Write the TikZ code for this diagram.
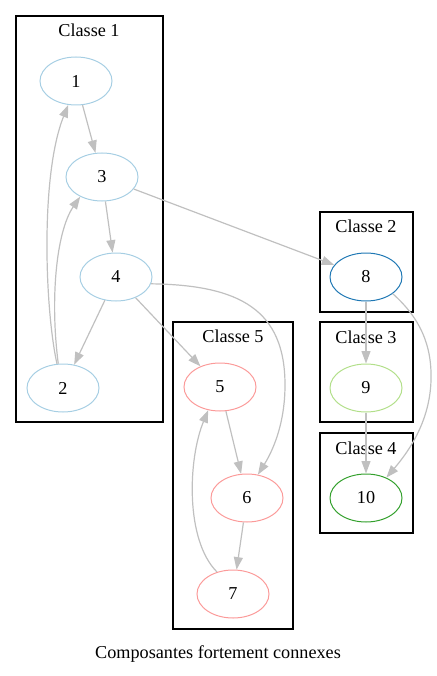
\documentclass[tikz,border=0pt]{standalone}
\usepackage{fontspec}
\setmainfont{Liberation Serif}
\usetikzlibrary{shapes.geometric,arrows.meta}
\definecolor{lightblue}{HTML}{A6CEE3}
\definecolor{darkblue}{HTML}{1F78B4}
\definecolor{lightgreen}{HTML}{B2DF8A}
\definecolor{darkgreen}{HTML}{33A02C}
\definecolor{salmon}{HTML}{FB9A99}
\definecolor{edgegray}{HTML}{C0C0C0}
\begin{document}
\begin{tikzpicture}[x=1pt,y=-1pt,
  txt/.style={font=\fontsize{18.2}{22}\selectfont, inner sep=0pt},
  vertex/.style={txt, ellipse, draw, line width=1pt, minimum width=72pt, minimum height=48pt},
  cluster/.style={draw=black, line width=1.2pt},
  edge/.style={draw=edgegray, line width=1.2pt, -{Triangle[length=12.5pt,width=9pt]}}]
\useasboundingbox (0,0) rectangle (436,676);

% strongly connected components
\draw[cluster] (16,16) rectangle (163,422);
\node[txt] (c1) at (89,30) {Classe 1};
\draw[cluster] (320,212) rectangle (413,312);
\node[txt] (c2) at (366,226) {Classe 2};
\draw[cluster] (320,322) rectangle (413,422);
\node[txt] (c3) at (366,337) {Classe 3};
\draw[cluster] (320,433) rectangle (413,533);
\node[txt] (c4) at (366,448) {Classe 4};
\draw[cluster] (173,322) rectangle (293,629);
\node[txt] (c5) at (233,336) {Classe 5};

% vertices
\node[vertex, draw=lightblue] (n1) at (76,81) {1};
\node[vertex, draw=lightblue] (n3) at (102,177) {3};
\node[vertex, draw=lightblue] (n4) at (116,277) {4};
\node[vertex, draw=lightblue] (n2) at (63,388) {2};
\node[vertex, draw=salmon] (n5) at (220,387) {5};
\node[vertex, draw=salmon] (n6) at (247,498) {6};
\node[vertex, draw=salmon] (n7) at (233,594) {7};
\node[vertex, draw=darkblue] (n8) at (366,277) {8};
\node[vertex, draw=lightgreen] (n9) at (366,388) {9};
\node[vertex, draw=darkgreen] (n10) at (366,498) {10};

% arcs
\draw[edge] (n1) -- (n3);
\draw[edge] (n3) -- (n4);
\draw[edge] (n4) -- (n2);
\draw[edge] (n2.104) .. controls (45,310) and (40,175) .. (n1.252);
\draw[edge] (n2.101) .. controls (50,300) and (56,232) .. (n3.222);
\draw[edge] (n3) -- (n8);
\draw[edge] (n4) -- (n5);
\draw[edge] (n4.349) .. controls (240,285) and (285,310) .. (285,385)
  .. controls (285,425) and (272,452) .. (n6.65);
\draw[edge] (n5) -- (n6);
\draw[edge] (n6) -- (n7);
\draw[edge] (n7.126) .. controls (185,540) and (188,459) .. (n5.243);
\draw[edge] (n8) -- (n9);
\draw[edge] (n9) -- (n10);
\draw[edge] (n8.328) .. controls (420,318) and (432,345) .. (431,380)
  .. controls (430,420) and (410,450) .. (n10.45);

\node[txt] (cap) at (218,654) {Composantes fortement connexes};
\end{tikzpicture}
\end{document}
